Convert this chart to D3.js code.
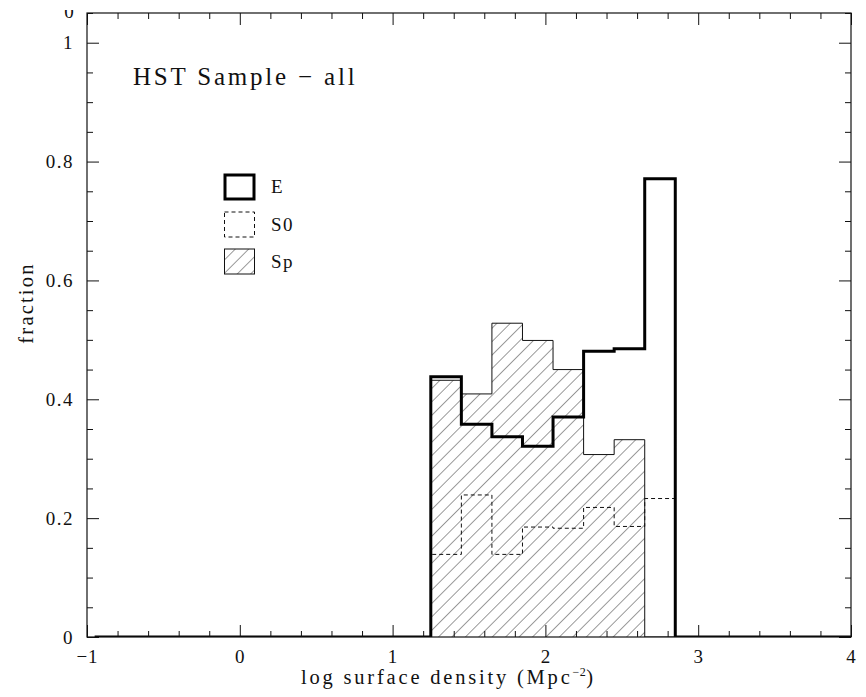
<!DOCTYPE html>
<html>
<head>
<meta charset="utf-8">
<script src="https://cdn.jsdelivr.net/npm/d3@7"></script>
<style>
	body { margin: 0; background: #fff; }
	svg { display: block; }
	text { font-family: "Liberation Serif", "Times New Roman", serif; fill: #111; }
</style>
</head>
<body>
<script>
// histogram bins (left edges, width 0.2)
const bin_left = [1.25, 1.45, 1.65, 1.85, 2.05, 2.25, 2.45, 2.65];
const bin_width = 0.2;
const frac_E  = [0.438, 0.358, 0.337, 0.321, 0.370, 0.481, 0.485, 0.771];
const frac_S0 = [0.139, 0.239, 0.139, 0.185, 0.183, 0.218, 0.186, 0.233];
const frac_Sp = [0.432, 0.409, 0.528, 0.499, 0.450, 0.307, 0.332, 0];
// the E histogram is drawn at zero over the empty bins
const hist_start = -0.95;
const hist_end = 4.0;

const x_ticks = [-1, 0, 1, 2, 3, 4];
const x_tick_labels = ['\u22121', '0', '1', '2', '3', '4'];
const y_ticks = [0, 0.2, 0.4, 0.6, 0.8, 1];
const y_tick_labels = ['0', '0.2', '0.4', '0.6', '0.8', '1'];
const legend_names = ['E', 'S0', 'Sp'];

function init()
{
	const svg_width = 866;
	const svg_height = 697;
	const left = 87, right = 851, top = 13, bottom = 637;

	var svg = d3.select('body').append('svg')
		.attr('width', svg_width)
		.attr('height', svg_height);

	var x = d3.scaleLinear().domain([-1, 4]).range([left, right]);
	var y = d3.scaleLinear().domain([0, 1.05]).range([bottom, top]);

	var defs = svg.append('defs');
	var pat = defs.append('pattern')
		.attr('id', 'hatch')
		.attr('patternUnits', 'userSpaceOnUse')
		.attr('width', 9.5)
		.attr('height', 9.5)
		.attr('patternTransform', 'rotate(45)');
	pat.append('line')
		.attr('x1', 0).attr('y1', -1).attr('x2', 0).attr('y2', 11)
		.attr('stroke', '#222')
		.attr('stroke-width', 0.9);

	defs.append('clipPath').attr('id', 'plotclip')
		.append('rect')
		.attr('x', left).attr('y', top)
		.attr('width', right - left).attr('height', bottom - top);

	defs.append('clipPath').attr('id', 'topclip')
		.append('rect')
		.attr('x', 50).attr('y', 10).attr('width', 40).attr('height', 10);

	// stray label cut off at the top edge
	svg.append('text')
		.attr('x', 69).attr('y', 18)
		.attr('text-anchor', 'middle')
		.attr('clip-path', 'url(#topclip)')
		.style('font-size', '19px')
		.text('0');

	var plot = svg.append('g').attr('clip-path', 'url(#plotclip)');

	// step points
	const pts_Sp = bin_left.map(function(d, i) { return [d, frac_Sp[i]]; });
	pts_Sp.push([bin_left[bin_left.length - 1] + bin_width, 0]);

	const pts_S0 = [[bin_left[0], 0]].concat(bin_left.map(function(d, i) { return [d, frac_S0[i]]; }));
	pts_S0.push([bin_left[bin_left.length - 1] + bin_width, frac_S0[frac_S0.length - 1]]);
	pts_S0.push([bin_left[bin_left.length - 1] + bin_width, 0]);

	const pts_E = [[hist_start, 0]].concat(bin_left.map(function(d, i) { return [d, frac_E[i]]; }));
	pts_E.push([bin_left[bin_left.length - 1] + bin_width, 0]);
	pts_E.push([hist_end, 0]);

	var line = d3.line()
		.x(function(d) { return x(d[0]); })
		.y(function(d) { return y(d[1]); })
		.curve(d3.curveStepAfter);

	var area = d3.area()
		.x(function(d) { return x(d[0]); })
		.y0(y(0))
		.y1(function(d) { return y(d[1]); })
		.curve(d3.curveStepAfter);

	plot.append('path')
		.datum(pts_Sp)
		.attr('fill', 'url(#hatch)')
		.attr('stroke', 'none')
		.attr('d', area);

	plot.append('path')
		.datum([[bin_left[0], 0]].concat(pts_Sp))
		.attr('fill', 'none')
		.attr('stroke', '#111')
		.attr('stroke-width', 1)
		.attr('d', line);

	plot.append('path')
		.datum(pts_S0)
		.attr('fill', 'none')
		.attr('stroke', '#111')
		.attr('stroke-width', 1)
		.attr('stroke-dasharray', '4,3')
		.attr('d', line);

	plot.append('path')
		.datum(pts_E)
		.attr('fill', 'none')
		.attr('stroke', '#000')
		.attr('stroke-width', 3)
		.attr('stroke-linejoin', 'miter')
		.attr('d', line);

	// axes: frame with major and minor ticks on all sides
	const x_minor = d3.range(-1, 4.001, 0.2).filter(function(v) { return Math.abs(v - Math.round(v)) > 1e-6; });
	const y_minor = d3.range(0, 1.051, 0.05).filter(function(v) { return Math.abs(v * 5 - Math.round(v * 5)) > 1e-6; });

	function style_axis(g)
	{
		g.select('.domain').remove();
		g.selectAll('line').attr('stroke', '#111').attr('stroke-width', 1);
	}

	svg.append('g').attr('transform', 'translate(0,' + bottom + ')')
		.call(d3.axisBottom(x).tickValues(x_ticks).tickSize(-12)
			.tickFormat(function(d, i) { return x_tick_labels[i]; }).tickPadding(13))
		.call(style_axis)
		.selectAll('text').style('font-size', '19px').style('letter-spacing', '1px')
			.style('font-family', '"Liberation Serif", serif').attr('fill', '#111');
	svg.append('g').attr('transform', 'translate(0,' + bottom + ')')
		.call(d3.axisBottom(x).tickValues(x_minor).tickSize(-6).tickFormat(''))
		.call(style_axis);
	svg.append('g').attr('transform', 'translate(0,' + top + ')')
		.call(d3.axisTop(x).tickValues(x_ticks).tickSize(-12).tickFormat(''))
		.call(style_axis);
	svg.append('g').attr('transform', 'translate(0,' + top + ')')
		.call(d3.axisTop(x).tickValues(x_minor).tickSize(-6).tickFormat(''))
		.call(style_axis);

	svg.append('g').attr('transform', 'translate(' + left + ',0)')
		.call(d3.axisLeft(y).tickValues(y_ticks).tickSize(-12)
			.tickFormat(function(d, i) { return y_tick_labels[i]; }).tickPadding(13))
		.call(style_axis)
		.selectAll('text').style('font-size', '19px').style('letter-spacing', '1.5px')
			.style('font-family', '"Liberation Serif", serif').attr('fill', '#111');
	svg.append('g').attr('transform', 'translate(' + left + ',0)')
		.call(d3.axisLeft(y).tickValues(y_minor).tickSize(-6).tickFormat(''))
		.call(style_axis);
	svg.append('g').attr('transform', 'translate(' + right + ',0)')
		.call(d3.axisRight(y).tickValues(y_ticks).tickSize(-12).tickFormat(''))
		.call(style_axis);
	svg.append('g').attr('transform', 'translate(' + right + ',0)')
		.call(d3.axisRight(y).tickValues(y_minor).tickSize(-6).tickFormat(''))
		.call(style_axis);

	svg.append('rect')
		.attr('x', left).attr('y', top)
		.attr('width', right - left).attr('height', bottom - top)
		.attr('fill', 'none')
		.attr('stroke', '#111')
		.attr('stroke-width', 1.2);

	// texts
	svg.append('text')
		.attr('x', 133).attr('y', 85)
		.style('font-size', '25px')
		.style('letter-spacing', '2.8px')
		.text('HST Sample \u2212 all');

	var xt = svg.append('text')
		.attr('x', 301).attr('y', 684)
		.style('font-size', '20.5px')
		.style('letter-spacing', '2.8px');
	xt.append('tspan').text('log surface density (Mpc');
	xt.append('tspan').attr('dy', -8).style('font-size', '12px').style('letter-spacing', '0.5px').text('\u22122');
	xt.append('tspan').attr('dy', 8).text(')');

	svg.append('text')
		.attr('transform', 'translate(33,303) rotate(-90)')
		.attr('text-anchor', 'middle')
		.style('font-size', '20.5px')
		.style('letter-spacing', '2.2px')
		.text('fraction');

	// legend
	var legend = svg.append('g');
	const legend_rows = [174, 212, 249];
	legend.append('rect')
		.attr('x', 225).attr('y', legend_rows[0] + 1).attr('width', 29).attr('height', 24)
		.attr('fill', 'none').attr('stroke', '#000').attr('stroke-width', 3);
	legend.append('rect')
		.attr('x', 224.5).attr('y', legend_rows[1]).attr('width', 30).attr('height', 25)
		.attr('fill', 'none').attr('stroke', '#111').attr('stroke-width', 1).attr('stroke-dasharray', '4,3');
	legend.append('rect')
		.attr('x', 224.5).attr('y', legend_rows[2]).attr('width', 30).attr('height', 25)
		.attr('fill', 'url(#hatch)').attr('stroke', '#111').attr('stroke-width', 1);
	legend.selectAll('text.leg')
		.data(legend_names)
		.enter()
		.append('text')
			.attr('class', 'leg')
			.attr('x', 271)
			.attr('y', function(d, i) { return legend_rows[i] + 19; })
			.style('font-size', '19px')
			.style('letter-spacing', '1.5px')
			.text(function(d) { return d; });
}
init();
</script>
</body>
</html>
